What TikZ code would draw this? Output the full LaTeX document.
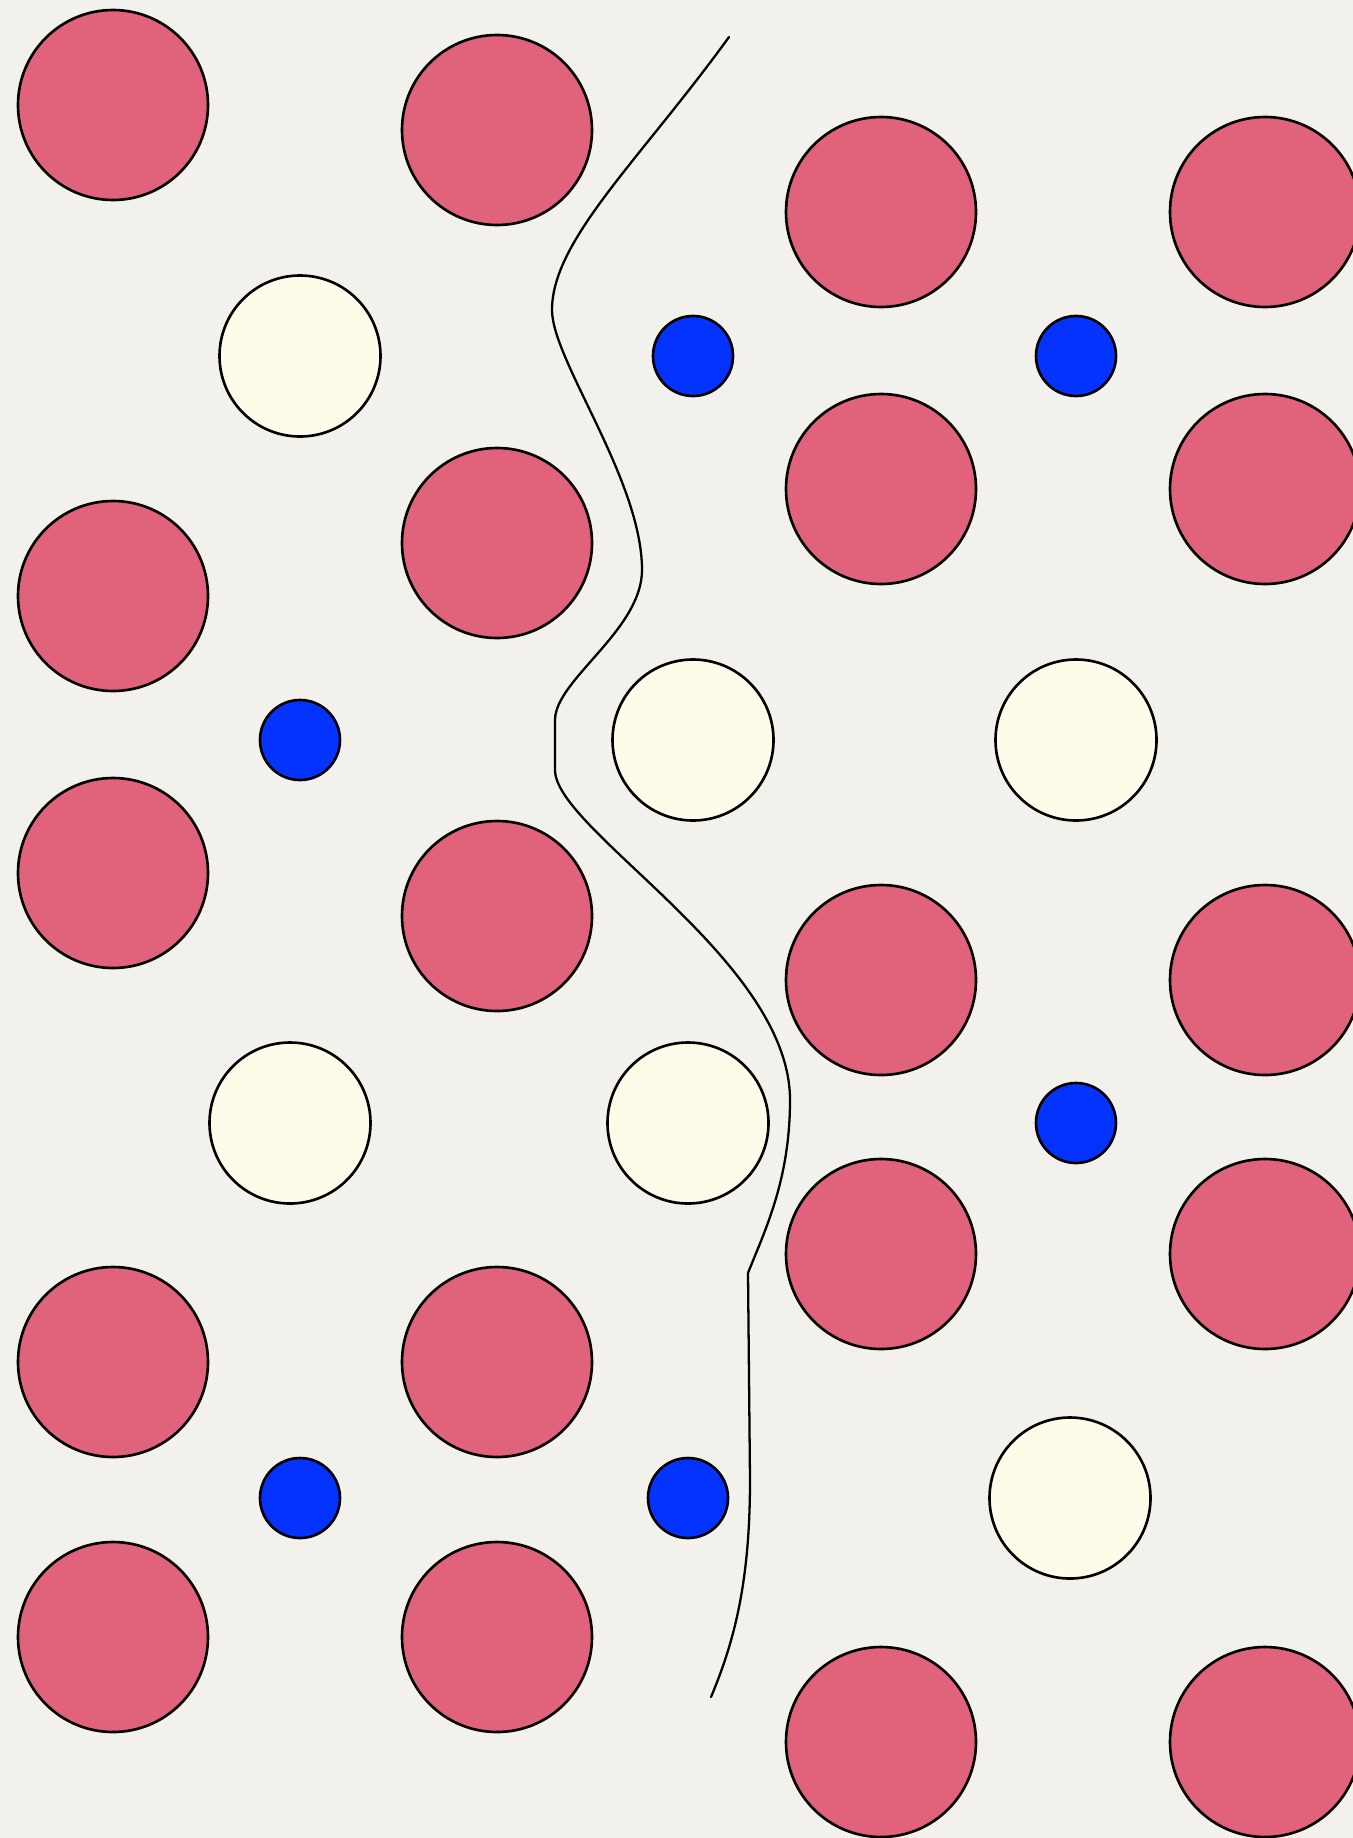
\documentclass[tikz,border=0pt]{standalone}
\definecolor{paper}{RGB}{243,241,236}
\definecolor{ionred}{RGB}{225,99,123}
\definecolor{ioncream}{RGB}{254,252,232}
\definecolor{ionblue}{RGB}{4,51,255}
\begin{document}
\begin{tikzpicture}[x=0.2mm, y=-0.2mm,
    big/.style={circle, draw, line width=1.5pt, fill=ionred, minimum size=38mm, inner sep=0pt},
    mid/.style={circle, draw, line width=1.5pt, fill=ioncream, minimum size=32.2mm, inner sep=0pt},
    small/.style={circle, draw, line width=1.5pt, fill=ionblue, minimum size=16mm, inner sep=0pt}]
    % Background
    \fill[paper] (0,0) rectangle (1353,1838);
    \clip (0,0) rectangle (1353,1838);
    % Large ions
    \foreach \y [count=\i] in {105,596,873,1362,1637}
        \node[big] (a\i) at (113,\y) {};
    \foreach \y [count=\i] in {130,543,916,1362,1637}
        \node[big] (b\i) at (497,\y) {};
    \foreach \y [count=\i] in {212,489,980,1254,1742}
        \node[big] (c\i) at (881,\y) {};
    \foreach \y [count=\i] in {212,489,980,1254,1742}
        \node[big] (d\i) at (1265,\y) {};
    % Medium ions
    \node[mid] (w1) at (300,356) {};
    \node[mid] (w2) at (693,740) {};
    \node[mid] (w3) at (1076,740) {};
    \node[mid] (w4) at (290,1123) {};
    \node[mid] (w5) at (688,1123) {};
    \node[mid] (w6) at (1070,1498) {};
    % Small ions
    \node[small] (s1) at (693,356) {};
    \node[small] (s2) at (1076,356) {};
    \node[small] (s3) at (300,740) {};
    \node[small] (s4) at (1076,1123) {};
    \node[small] (s5) at (300,1498) {};
    \node[small] (s6) at (688,1498) {};
    % Boundary
    \draw[line width=1.3pt, line cap=round]
        (729,37) .. controls (640,160) and (552,240) .. (552,310)
        .. controls (552,360) and (642,480) .. (642,570)
        .. controls (642,630) and (555,680) .. (555,720)
        -- (555,770)
        .. controls (555,830) and (790,960) .. (790,1100)
        .. controls (790,1180) and (765,1230) .. (748,1273)
        -- (750,1480)
        .. controls (750,1580) and (735,1640) .. (711,1697);
\end{tikzpicture}
\end{document}
